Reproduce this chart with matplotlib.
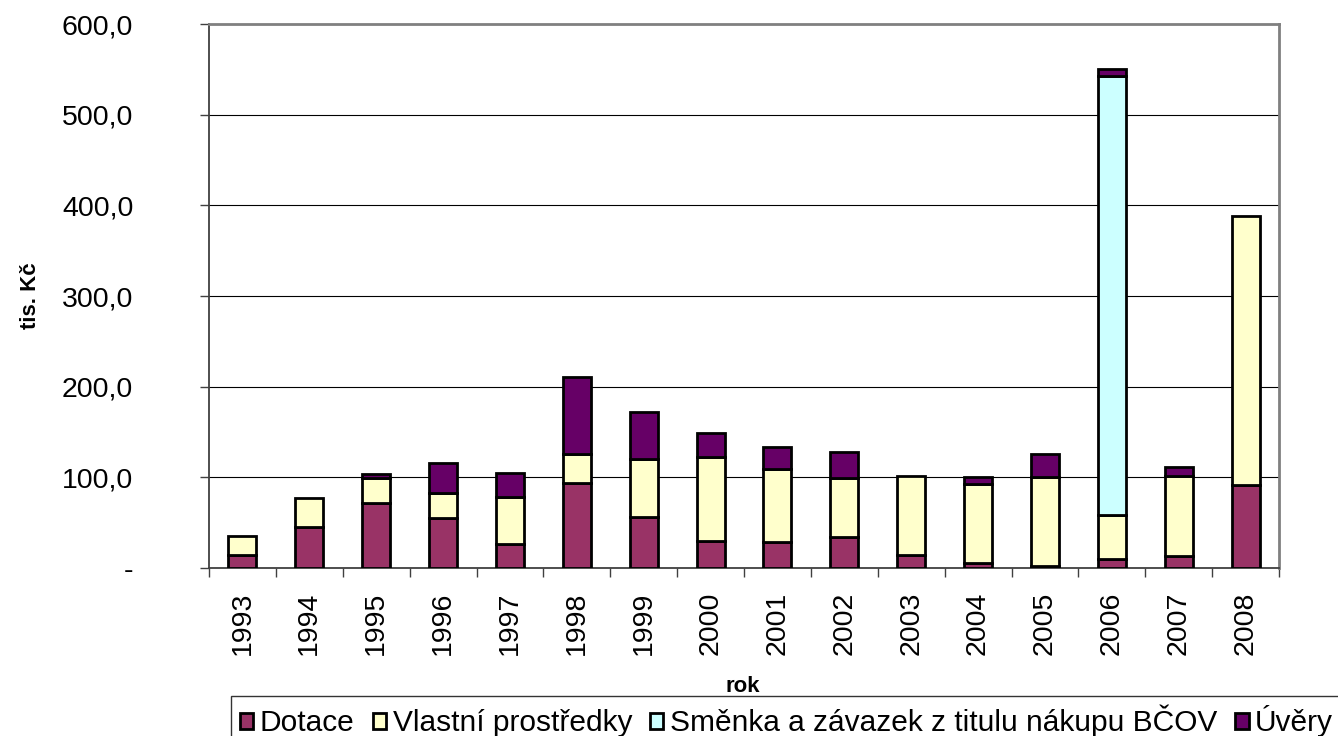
import numpy as np
import matplotlib
matplotlib.use("Agg")
import matplotlib.pyplot as plt
from matplotlib.ticker import FuncFormatter

plt.rcParams['font.family'] = ['Liberation Sans', 'DejaVu Sans']

# data (tis. Kč)
roky = ['1993', '1994', '1995', '1996', '1997', '1998', '1999', '2000',
        '2001', '2002', '2003', '2004', '2005', '2006', '2007', '2008']
dotace = [14, 45.5, 71.5, 55, 26.5, 93.5, 56, 30, 28.5, 34, 14, 5, 2, 9.5, 13, 92]
vlastni = [21, 31.5, 27.5, 27.5, 51.5, 32, 64, 92, 81, 65, 88, 87.5, 98.5, 48.5, 89, 296.5]
smenka = [0, 0, 0, 0, 0, 0, 0, 0, 0, 0, 0, 0, 0, 484.5, 0, 0]
uvery = [0, 0, 4.5, 33.5, 26.5, 85, 52, 26.5, 24.5, 29, 0, 7.5, 25, 8, 9, 0]

series = [
    ('Dotace', dotace, '#993366'),
    ('Vlastní prostředky', vlastni, '#FFFFCC'),
    ('Směnka a závazek z titulu nákupu BČOV', smenka, '#CCFFFF'),
    ('Úvěry', uvery, '#660066'),
]

fig = plt.figure(figsize=(13.38, 7.36), dpi=100)
ax = fig.add_axes([209/1338, 1-568/736, (1279-209)/1338, (568-24)/736])

x = np.arange(len(roky))
bottom = np.zeros(len(roky))
for name, vals, col in series:
    vals = np.array(vals, dtype=float)
    h = np.where(vals > 0, vals, np.nan)
    ax.bar(x, h, 0.42, bottom=bottom, color=col, edgecolor='black',
           linewidth=2, label=name, zorder=3)
    bottom += vals

ax.set_xlim(-0.5, len(roky) - 0.5)
ax.set_ylim(0, 600)
ax.set_yticks(np.arange(0, 601, 100))
ax.yaxis.set_major_formatter(FuncFormatter(
    lambda v, p: '-' if v == 0 else f'{v:.1f}'.replace('.', ',')))
ax.grid(axis='y', color='black', linewidth=0.8, zorder=1)

ax.set_xticks(x)
ax.set_xticklabels(roky, rotation=90)
ax.set_xticks(np.arange(-0.5, len(roky)), minor=True)
ax.tick_params(axis='x', which='major', length=0, pad=17, labelsize=20.5)
ax.tick_params(axis='x', which='minor', length=6.5, width=1, color='#404040')
ax.tick_params(axis='y', length=6.5, width=1, color='#404040', pad=48, labelsize=20.5)

for s in ['left', 'bottom']:
    ax.spines[s].set_color('#404040')
    ax.spines[s].set_linewidth(1.3)
for s in ['top', 'right']:
    ax.spines[s].set_color('#808080')
    ax.spines[s].set_linewidth(2)

fig.text(30/1338, 1-296/736, 'tis. Kč', rotation=90, fontsize=16,
         fontweight='bold', ha='center', va='center')
fig.text(743/1338, 1-686/736, 'rok', fontsize=16, fontweight='bold',
         ha='center', va='center')

leg = fig.legend(loc='upper left', bbox_to_anchor=(231/1338, 1-696/736),
                 ncol=4, fontsize=21.5, frameon=True, fancybox=False,
                 edgecolor='black', borderaxespad=0, handlelength=0.45,
                 handleheight=0.45, handletextpad=0.22, columnspacing=0.6,
                 borderpad=0.3)
leg.get_frame().set_linewidth(1)

fig.savefig('out.png', dpi=100)
